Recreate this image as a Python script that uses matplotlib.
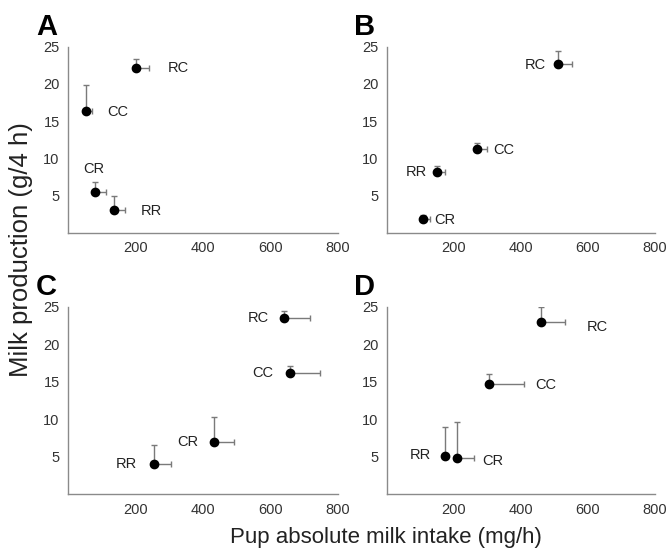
import matplotlib
matplotlib.use("Agg")
import matplotlib.pyplot as plt

plt.rcParams['font.family'] = ['Liberation Sans', 'DejaVu Sans']

groups = ["RC", "CC", "CR", "RR"]

# Panel A
a_x = [200, 54, 81, 135]
a_y = [22.2, 16.4, 5.5, 3.1]
a_xerr = [40, 18, 31, 33]
a_yerr = [1.2, 3.5, 1.3, 1.9]
a_lab = [(295, 22.2, 'left'), (117, 16.3, 'left'), (75, 8.6, 'center'), (215, 3.0, 'left')]

# Panel B
b_x = [513, 270, 110, 152]
b_y = [22.7, 11.3, 1.9, 8.2]
b_xerr = [41, 30, 20, 22]
b_yerr = [1.7, 0.8, 0.5, 0.8]
b_lab = [(477, 22.5, 'right'), (319, 11.1, 'left'), (142, 1.8, 'left'), (120, 8.2, 'right')]

# Panel C
c_x = [639, 659, 432, 256]
c_y = [23.5, 16.1, 7.0, 4.1]
c_xerr = [79, 89, 61, 50]
c_yerr = [0.9, 1.0, 3.3, 2.5]
c_lab = [(595, 23.5, 'right'), (608, 16.1, 'right'), (385, 7.0, 'right'), (203, 4.1, 'right')]

# Panel D
d_x = [462, 305, 210, 175]
d_y = [22.9, 14.7, 4.9, 5.15]
d_xerr = [71, 106, 52, 0]
d_yerr = [2.0, 1.3, 4.7, 3.8]
d_lab = [(598, 22.3, 'left'), (444, 14.5, 'left'), (287, 4.5, 'left'), (132, 5.3, 'right')]

panels = [
    ("A", a_x, a_y, a_xerr, a_yerr, a_lab, [68/669, 1-233/550, 270/669, 186.3/550]),
    ("B", b_x, b_y, b_xerr, b_yerr, b_lab, [386.5/669, 1-233/550, 268/669, 186.3/550]),
    ("C", c_x, c_y, c_xerr, c_yerr, c_lab, [68/669, 1-494.3/550, 270/669, 187.6/550]),
    ("D", d_x, d_y, d_xerr, d_yerr, d_lab, [386.5/669, 1-494.3/550, 268/669, 187.6/550]),
]

fig = plt.figure(figsize=(6.69, 5.5), dpi=100)

for letter, xs, ys, xe, ye, labs, rect in panels:
    ax = fig.add_axes(rect)
    ax.errorbar(xs, ys, xerr=[[0]*len(xe), xe], yerr=[[0]*len(ye), ye],
                fmt='none', ecolor='#7a7a7a', elinewidth=1.0, capsize=2.5, capthick=1.0, zorder=2)
    ax.plot(xs, ys, 'o', color='black', markersize=6, zorder=3)
    for g, (lx, ly, ha) in zip(groups, labs):
        ax.text(lx, ly, g, ha=ha, va='center', fontsize=10.5, color='#222222')
    ax.set_xlim(0, 800)
    ax.set_ylim(0, 25)
    ax.set_xticks([200, 400, 600, 800])
    ax.set_yticks([5, 10, 15, 20, 25])
    ax.tick_params(length=0, labelsize=10.5, labelcolor='#333333', pad=6)
    for s in ['top', 'right']:
        ax.spines[s].set_visible(False)
    for s in ['left', 'bottom']:
        ax.spines[s].set_color('#8a8a8a')
        ax.spines[s].set_linewidth(1.0)
    pos = ax.get_position()
    fig.text(pos.x0 - 32/669, pos.y1 + 6/550, letter, fontsize=21, fontweight='bold',
             ha='left', va='bottom', color='black')

fig.text(21/669, 1-250/550, "Milk production (g/4 h)", rotation=90, fontsize=18.5,
         ha='center', va='center', color='#222222')
fig.text(386/669, 1-537/550, "Pup absolute milk intake (mg/h)", fontsize=16,
         ha='center', va='center', color='#222222')

fig.savefig("out.png", dpi=100)
